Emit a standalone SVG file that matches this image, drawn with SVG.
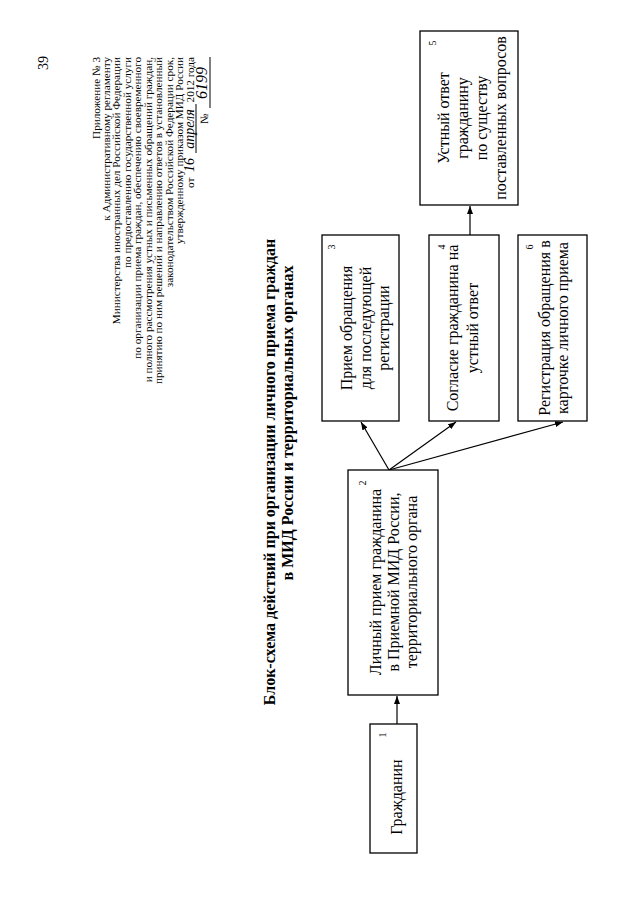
<svg xmlns="http://www.w3.org/2000/svg" width="640" height="905" viewBox="0 0 640 905">
<style>
text{font-family:"Liberation Serif","Times New Roman",serif;fill:#000}
.hd{font-size:11.2px;text-anchor:end}
.pg{font-size:14px;text-anchor:end}
.tt{font-size:16px;font-weight:bold;text-anchor:middle}
.bx{fill:#fff;stroke:#000;stroke-width:1.3}
.lb{font-size:16px;text-anchor:middle}
.nm{font-size:10px;text-anchor:middle}
.cn{stroke:#000;stroke-width:1.2;fill:none;marker-end:url(#ah)}
.hw{font-style:italic;font-size:14px;text-anchor:middle}
.ul{stroke:#000;stroke-width:1}
</style>
<defs>
<marker id="ah" markerWidth="8" markerHeight="6" refX="8" refY="3" orient="auto" markerUnits="userSpaceOnUse"><path d="M0,0 L8,3 L0,6 z" fill="#000"/></marker>
</defs>
<rect width="640" height="905" fill="#fff"/>
<g id="header">
<text class="pg" x="48" y="56" transform="rotate(-90 48 56)">39</text>
<text class="hd" x="100" y="57" transform="rotate(-90 100 57)">Приложение № 3</text>
<text class="hd" x="110" y="57" transform="rotate(-90 110 57)">к Административному регламенту</text>
<text class="hd" x="120" y="57" transform="rotate(-90 120 57)">Министерства иностранных дел Российской Федерации</text>
<text class="hd" x="130.5" y="57" transform="rotate(-90 130.5 57)">по предоставлению государственной услуги</text>
<text class="hd" x="141" y="57" transform="rotate(-90 141 57)">по организации приема граждан, обеспечению своевременного</text>
<text class="hd" x="151.5" y="57" transform="rotate(-90 151.5 57)">и полного рассмотрения устных и письменных обращений граждан,</text>
<text class="hd" x="162" y="57" transform="rotate(-90 162 57)">принятию по ним решений и направлению ответов в установленный</text>
<text class="hd" x="172.5" y="57" transform="rotate(-90 172.5 57)">законодательством Российской Федерации срок,</text>
<text class="hd" x="183" y="57" transform="rotate(-90 183 57)">утвержденному приказом МИД России</text>
<text class="hd" x="194" y="57" transform="rotate(-90 194 57)">2012 года</text>
<text class="hw" x="194" y="129" transform="rotate(-90 194 129)">апреля</text>
<line class="ul" x1="196" y1="104" x2="196" y2="153"/>
<text class="hw" x="194" y="165" transform="rotate(-90 194 165)">16</text>
<text class="hd" x="194" y="188" transform="rotate(-90 194 188)" style="text-anchor:start">от</text>
<text class="hw" x="207" y="83" style="font-size:16px" transform="rotate(-90 207 83)">6199</text>
<line class="ul" x1="210" y1="57" x2="210" y2="108"/>
<text class="hd" x="208" y="124" transform="rotate(-90 208 124)" style="text-anchor:start">№</text>
</g>
<g id="title">
<text class="tt" x="275" y="472" transform="rotate(-90 275 472)">Блок-схема действий при организации личного приема граждан</text>
<text class="tt" x="293" y="423" transform="rotate(-90 293 423)">в МИД России и территориальных органах</text>
</g>
<g id="connectors">
<line class="cn" x1="397" y1="724" x2="397" y2="696"/>
<line class="cn" x1="389" y1="470" x2="361" y2="422"/>
<line class="cn" x1="389" y1="470" x2="456" y2="422"/>
<line class="cn" x1="389" y1="470" x2="563" y2="422"/>
<line class="cn" x1="470" y1="235" x2="470" y2="206"/>
</g>
<g id="node1">
<rect class="bx" x="370" y="724" width="47" height="129"/>
<text class="nm" x="386" y="735" transform="rotate(-90 386 735)">1</text>
<text class="lb" x="402" y="797" transform="rotate(-90 402 797)">Гражданин</text>
</g>
<g id="node2">
<rect class="bx" x="348" y="470" width="90" height="225"/>
<text class="nm" x="366" y="483" transform="rotate(-90 366 483)">2</text>
<text class="lb" x="381" y="582" transform="rotate(-90 381 582)">Личный прием гражданина</text>
<text class="lb" x="399" y="582" transform="rotate(-90 399 582)">в Приемной МИД России,</text>
<text class="lb" x="417" y="582" transform="rotate(-90 417 582)">территориального органа</text>
</g>
<g id="node3">
<rect class="bx" x="322" y="235" width="77" height="186"/>
<text class="nm" x="335" y="247" transform="rotate(-90 335 247)">3</text>
<text class="lb" x="352" y="328" transform="rotate(-90 352 328)">Прием обращения</text>
<text class="lb" x="371" y="328" transform="rotate(-90 371 328)">для последующей</text>
<text class="lb" x="389" y="328" transform="rotate(-90 389 328)">регистрации</text>
</g>
<g id="node4">
<rect class="bx" x="429" y="235" width="70" height="186"/>
<text class="nm" x="445" y="247" transform="rotate(-90 445 247)">4</text>
<text class="lb" x="458" y="328" transform="rotate(-90 458 328)">Согласие гражданина на</text>
<text class="lb" x="478" y="328" transform="rotate(-90 478 328)">устный ответ</text>
</g>
<g id="node5">
<rect class="bx" x="420" y="31" width="98" height="174"/>
<text class="nm" x="436" y="43" transform="rotate(-90 436 43)">5</text>
<text class="lb" x="449" y="118" transform="rotate(-90 449 118)">Устный ответ</text>
<text class="lb" x="468" y="118" transform="rotate(-90 468 118)">гражданину</text>
<text class="lb" x="487" y="118" transform="rotate(-90 487 118)">по существу</text>
<text class="lb" x="506" y="118" transform="rotate(-90 506 118)">поставленных вопросов</text>
</g>
<g id="node6">
<rect class="bx" x="518" y="235" width="69" height="186"/>
<text class="nm" x="533" y="247" transform="rotate(-90 533 247)">6</text>
<text class="lb" x="550" y="328" transform="rotate(-90 550 328)">Регистрация обращения в</text>
<text class="lb" x="568" y="328" transform="rotate(-90 568 328)">карточке личного приема</text>
</g>
</svg>
